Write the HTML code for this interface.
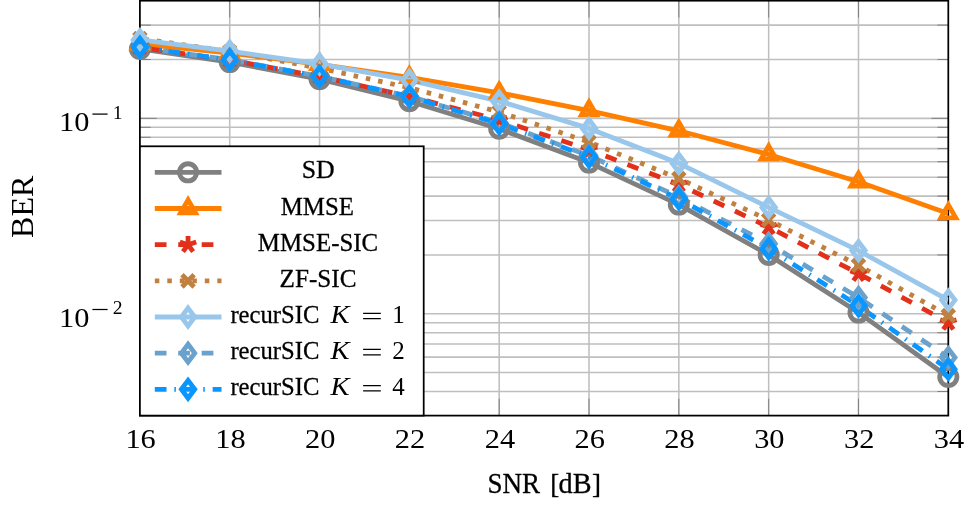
<!DOCTYPE html>
<html>
<head>
<meta charset="utf-8">
<title>BER vs SNR</title>
<style>
html,body{margin:0;padding:0;background:#fff;}
body{width:977px;height:510px;overflow:hidden;font-family:"Liberation Serif",serif;}
svg{display:block;will-change:transform;}
</style>
</head>
<body>
<svg width="977" height="510" viewBox="0 0 977 510">
<rect x="0" y="0" width="977" height="510" fill="#ffffff"/>
<path d="M229.72 0.7V415.6M319.54 0.7V415.6M409.37 0.7V415.6M499.19 0.7V415.6M589.01 0.7V415.6M678.83 0.7V415.6M768.66 0.7V415.6M858.48 0.7V415.6M139.9 391.51H948.3M139.9 372.57H948.3M139.9 357.1H948.3M139.9 344.02H948.3M139.9 332.69H948.3M139.9 322.69H948.3M139.9 313.75H948.3M139.9 254.93H948.3M139.9 220.52H948.3M139.9 196.11H948.3M139.9 177.17H948.3M139.9 161.7H948.3M139.9 148.62H948.3M139.9 137.29H948.3M139.9 127.29H948.3M139.9 118.35H948.3M139.9 59.53H948.3M139.9 25.12H948.3" stroke="#bfbfbf" stroke-width="1.55" fill="none"/>
<path d="M229.72 415.6V398.8M229.72 0.7V17.5M319.54 415.6V398.8M319.54 0.7V17.5M409.37 415.6V398.8M409.37 0.7V17.5M499.19 415.6V398.8M499.19 0.7V17.5M589.01 415.6V398.8M589.01 0.7V17.5M678.83 415.6V398.8M678.83 0.7V17.5M768.66 415.6V398.8M768.66 0.7V17.5M858.48 415.6V398.8M858.48 0.7V17.5M139.9 391.51H150.7M948.3 391.51H937.5M139.9 372.57H150.7M948.3 372.57H937.5M139.9 357.1H150.7M948.3 357.1H937.5M139.9 344.02H150.7M948.3 344.02H937.5M139.9 332.69H150.7M948.3 332.69H937.5M139.9 322.69H150.7M948.3 322.69H937.5M139.9 313.75H156.7M948.3 313.75H931.5M139.9 254.93H150.7M948.3 254.93H937.5M139.9 220.52H150.7M948.3 220.52H937.5M139.9 196.11H150.7M948.3 196.11H937.5M139.9 177.17H150.7M948.3 177.17H937.5M139.9 161.7H150.7M948.3 161.7H937.5M139.9 148.62H150.7M948.3 148.62H937.5M139.9 137.29H150.7M948.3 137.29H937.5M139.9 127.29H150.7M948.3 127.29H937.5M139.9 118.35H156.7M948.3 118.35H931.5M139.9 59.53H150.7M948.3 59.53H937.5M139.9 25.12H150.7M948.3 25.12H937.5" stroke="#787878" stroke-width="0.9" fill="none"/>
<rect x="139.9" y="0.7" width="808.4" height="414.9" fill="none" stroke="#000" stroke-width="1.75"/>
<clipPath id="c"><rect x="139.9" y="0.7" width="808.4" height="414.9"/></clipPath>
<g clip-path="url(#c)">
<path d="M139.9 49L229.72 62.1L319.54 79.2L409.37 101.2L499.19 128.8L589.01 162.6L678.83 204.6L768.66 254.9L858.48 312.6L948.3 377" stroke="#808080" stroke-width="4.8" fill="none" stroke-linejoin="round"/>
<path d="M139.9 43.8L229.72 53.1L319.54 64.3L409.37 77.3L499.19 92.8L589.01 110.6L678.83 130.8L768.66 154.5L858.48 181.8L948.3 213.5" stroke="#ff8000" stroke-width="4.8" fill="none" stroke-linejoin="round"/>
<path d="M139.9 47.5L229.72 60L319.54 76.5L409.37 96.3L499.19 120L589.01 149.6L678.83 184.5L768.66 227L858.48 273.6L948.3 322.5" stroke="#e2301a" stroke-width="4.8" fill="none" stroke-linejoin="round" stroke-dasharray="11.72 11.72" stroke-dashoffset="13"/>
<path d="M139.9 38.5L229.72 51.5L319.54 68.2L409.37 87.7L499.19 112L589.01 142L678.83 178.5L768.66 220L858.48 265.3L948.3 315.6" stroke="#bf8040" stroke-width="4.8" fill="none" stroke-linejoin="round" stroke-dasharray="4.55 7.95" stroke-dashoffset="8"/>
<path d="M139.9 39.9L229.72 51.1L319.54 64L409.37 80.1L499.19 101.1L589.01 128.4L678.83 163.3L768.66 207.4L858.48 250.6L948.3 300.1" stroke="#99c7ec" stroke-width="4.8" fill="none" stroke-linejoin="round"/>
<path d="M139.9 47.3L229.72 59.8L319.54 76.3L409.37 96.3L499.19 122.7L589.01 155.6L678.83 197L768.66 243.7L858.48 297.6L948.3 357.6" stroke="#6aa2cc" stroke-width="4.8" fill="none" stroke-linejoin="round" stroke-dasharray="11.72 11.72" stroke-dashoffset="0"/>
<path d="M139.9 47.3L229.72 59.9L319.54 76.5L409.37 96.6L499.19 123.7L589.01 157L678.83 198.9L768.66 248.7L858.48 305.8L948.3 369.2" stroke="#0a96ff" stroke-width="4.8" fill="none" stroke-linejoin="round" stroke-dasharray="11.72 7.82 1.56 7.82" stroke-dashoffset="0"/>
</g>
<circle cx="139.9" cy="49" r="8.6" stroke="#808080" stroke-width="4.8" fill="none"/>
<circle cx="229.72" cy="62.1" r="8.6" stroke="#808080" stroke-width="4.8" fill="none"/>
<circle cx="319.54" cy="79.2" r="8.6" stroke="#808080" stroke-width="4.8" fill="none"/>
<circle cx="409.37" cy="101.2" r="8.6" stroke="#808080" stroke-width="4.8" fill="none"/>
<circle cx="499.19" cy="128.8" r="8.6" stroke="#808080" stroke-width="4.8" fill="none"/>
<circle cx="589.01" cy="162.6" r="8.6" stroke="#808080" stroke-width="4.8" fill="none"/>
<circle cx="678.83" cy="204.6" r="8.6" stroke="#808080" stroke-width="4.8" fill="none"/>
<circle cx="768.66" cy="254.9" r="8.6" stroke="#808080" stroke-width="4.8" fill="none"/>
<circle cx="858.48" cy="312.6" r="8.6" stroke="#808080" stroke-width="4.8" fill="none"/>
<circle cx="948.3" cy="377" r="8.6" stroke="#808080" stroke-width="4.8" fill="none"/>
<polygon points="139.9,35.2 132.45,48.1 147.35,48.1" stroke="#ff8000" stroke-width="4.8" fill="none" stroke-linejoin="miter"/>
<polygon points="229.72,44.5 222.27,57.4 237.17,57.4" stroke="#ff8000" stroke-width="4.8" fill="none" stroke-linejoin="miter"/>
<polygon points="319.54,55.7 312.1,68.6 326.99,68.6" stroke="#ff8000" stroke-width="4.8" fill="none" stroke-linejoin="miter"/>
<polygon points="409.37,68.7 401.92,81.6 416.81,81.6" stroke="#ff8000" stroke-width="4.8" fill="none" stroke-linejoin="miter"/>
<polygon points="499.19,84.2 491.74,97.1 506.64,97.1" stroke="#ff8000" stroke-width="4.8" fill="none" stroke-linejoin="miter"/>
<polygon points="589.01,102 581.56,114.9 596.46,114.9" stroke="#ff8000" stroke-width="4.8" fill="none" stroke-linejoin="miter"/>
<polygon points="678.83,122.2 671.39,135.1 686.28,135.1" stroke="#ff8000" stroke-width="4.8" fill="none" stroke-linejoin="miter"/>
<polygon points="768.66,145.9 761.21,158.8 776.1,158.8" stroke="#ff8000" stroke-width="4.8" fill="none" stroke-linejoin="miter"/>
<polygon points="858.48,173.2 851.03,186.1 865.93,186.1" stroke="#ff8000" stroke-width="4.8" fill="none" stroke-linejoin="miter"/>
<polygon points="948.3,204.9 940.85,217.8 955.75,217.8" stroke="#ff8000" stroke-width="4.8" fill="none" stroke-linejoin="miter"/>
<path d="M139.9 47.5L139.9 38.9M139.9 47.5L131.72 44.84M139.9 47.5L134.85 54.46M139.9 47.5L144.95 54.46M139.9 47.5L148.08 44.84" stroke="#e2301a" stroke-width="4.8" fill="none"/>
<path d="M229.72 60L229.72 51.4M229.72 60L221.54 57.34M229.72 60L224.67 66.96M229.72 60L234.78 66.96M229.72 60L237.9 57.34" stroke="#e2301a" stroke-width="4.8" fill="none"/>
<path d="M319.54 76.5L319.54 67.9M319.54 76.5L311.37 73.84M319.54 76.5L314.49 83.46M319.54 76.5L324.6 83.46M319.54 76.5L327.72 73.84" stroke="#e2301a" stroke-width="4.8" fill="none"/>
<path d="M409.37 96.3L409.37 87.7M409.37 96.3L401.19 93.64M409.37 96.3L404.31 103.26M409.37 96.3L414.42 103.26M409.37 96.3L417.55 93.64" stroke="#e2301a" stroke-width="4.8" fill="none"/>
<path d="M499.19 120L499.19 111.4M499.19 120L491.01 117.34M499.19 120L494.13 126.96M499.19 120L504.24 126.96M499.19 120L507.37 117.34" stroke="#e2301a" stroke-width="4.8" fill="none"/>
<path d="M589.01 149.6L589.01 141M589.01 149.6L580.83 146.94M589.01 149.6L583.96 156.56M589.01 149.6L594.07 156.56M589.01 149.6L597.19 146.94" stroke="#e2301a" stroke-width="4.8" fill="none"/>
<path d="M678.83 184.5L678.83 175.9M678.83 184.5L670.65 181.84M678.83 184.5L673.78 191.46M678.83 184.5L683.89 191.46M678.83 184.5L687.01 181.84" stroke="#e2301a" stroke-width="4.8" fill="none"/>
<path d="M768.66 227L768.66 218.4M768.66 227L760.48 224.34M768.66 227L763.6 233.96M768.66 227L773.71 233.96M768.66 227L776.83 224.34" stroke="#e2301a" stroke-width="4.8" fill="none"/>
<path d="M858.48 273.6L858.48 265M858.48 273.6L850.3 270.94M858.48 273.6L853.42 280.56M858.48 273.6L863.53 280.56M858.48 273.6L866.66 270.94" stroke="#e2301a" stroke-width="4.8" fill="none"/>
<path d="M948.3 322.5L948.3 313.9M948.3 322.5L940.12 319.84M948.3 322.5L943.25 329.46M948.3 322.5L953.35 329.46M948.3 322.5L956.48 319.84" stroke="#e2301a" stroke-width="4.8" fill="none"/>
<path d="M133.82 32.42L145.98 44.58M133.82 44.58L145.98 32.42" stroke="#bf8040" stroke-width="4.8" fill="none"/>
<path d="M223.64 45.42L235.8 57.58M223.64 57.58L235.8 45.42" stroke="#bf8040" stroke-width="4.8" fill="none"/>
<path d="M313.46 62.12L325.63 74.28M313.46 74.28L325.63 62.12" stroke="#bf8040" stroke-width="4.8" fill="none"/>
<path d="M403.29 81.62L415.45 93.78M403.29 93.78L415.45 81.62" stroke="#bf8040" stroke-width="4.8" fill="none"/>
<path d="M493.11 105.92L505.27 118.08M493.11 118.08L505.27 105.92" stroke="#bf8040" stroke-width="4.8" fill="none"/>
<path d="M582.93 135.92L595.09 148.08M582.93 148.08L595.09 135.92" stroke="#bf8040" stroke-width="4.8" fill="none"/>
<path d="M672.75 172.42L684.91 184.58M672.75 184.58L684.91 172.42" stroke="#bf8040" stroke-width="4.8" fill="none"/>
<path d="M762.57 213.92L774.74 226.08M762.57 226.08L774.74 213.92" stroke="#bf8040" stroke-width="4.8" fill="none"/>
<path d="M852.4 259.22L864.56 271.38M852.4 271.38L864.56 259.22" stroke="#bf8040" stroke-width="4.8" fill="none"/>
<path d="M942.22 309.52L954.38 321.68M942.22 321.68L954.38 309.52" stroke="#bf8040" stroke-width="4.8" fill="none"/>
<polygon points="139.9,31 146.58,39.9 139.9,48.8 133.22,39.9" stroke="#99c7ec" stroke-width="4.8" fill="none" stroke-linejoin="miter"/>
<polygon points="229.72,42.2 236.4,51.1 229.72,60 223.05,51.1" stroke="#99c7ec" stroke-width="4.8" fill="none" stroke-linejoin="miter"/>
<polygon points="319.54,55.1 326.22,64 319.54,72.9 312.87,64" stroke="#99c7ec" stroke-width="4.8" fill="none" stroke-linejoin="miter"/>
<polygon points="409.37,71.2 416.04,80.1 409.37,89 402.69,80.1" stroke="#99c7ec" stroke-width="4.8" fill="none" stroke-linejoin="miter"/>
<polygon points="499.19,92.2 505.86,101.1 499.19,110 492.51,101.1" stroke="#99c7ec" stroke-width="4.8" fill="none" stroke-linejoin="miter"/>
<polygon points="589.01,119.5 595.69,128.4 589.01,137.3 582.34,128.4" stroke="#99c7ec" stroke-width="4.8" fill="none" stroke-linejoin="miter"/>
<polygon points="678.83,154.4 685.51,163.3 678.83,172.2 672.16,163.3" stroke="#99c7ec" stroke-width="4.8" fill="none" stroke-linejoin="miter"/>
<polygon points="768.66,198.5 775.33,207.4 768.66,216.3 761.98,207.4" stroke="#99c7ec" stroke-width="4.8" fill="none" stroke-linejoin="miter"/>
<polygon points="858.48,241.7 865.15,250.6 858.48,259.5 851.8,250.6" stroke="#99c7ec" stroke-width="4.8" fill="none" stroke-linejoin="miter"/>
<polygon points="948.3,291.2 954.97,300.1 948.3,309 941.62,300.1" stroke="#99c7ec" stroke-width="4.8" fill="none" stroke-linejoin="miter"/>
<polygon points="139.9,38.4 146.58,47.3 139.9,56.2 133.22,47.3" stroke="#6aa2cc" stroke-width="4.8" fill="none" stroke-linejoin="miter"/>
<polygon points="229.72,50.9 236.4,59.8 229.72,68.7 223.05,59.8" stroke="#6aa2cc" stroke-width="4.8" fill="none" stroke-linejoin="miter"/>
<polygon points="319.54,67.4 326.22,76.3 319.54,85.2 312.87,76.3" stroke="#6aa2cc" stroke-width="4.8" fill="none" stroke-linejoin="miter"/>
<polygon points="409.37,87.4 416.04,96.3 409.37,105.2 402.69,96.3" stroke="#6aa2cc" stroke-width="4.8" fill="none" stroke-linejoin="miter"/>
<polygon points="499.19,113.8 505.86,122.7 499.19,131.6 492.51,122.7" stroke="#6aa2cc" stroke-width="4.8" fill="none" stroke-linejoin="miter"/>
<polygon points="589.01,146.7 595.69,155.6 589.01,164.5 582.34,155.6" stroke="#6aa2cc" stroke-width="4.8" fill="none" stroke-linejoin="miter"/>
<polygon points="678.83,188.1 685.51,197 678.83,205.9 672.16,197" stroke="#6aa2cc" stroke-width="4.8" fill="none" stroke-linejoin="miter"/>
<polygon points="768.66,234.8 775.33,243.7 768.66,252.6 761.98,243.7" stroke="#6aa2cc" stroke-width="4.8" fill="none" stroke-linejoin="miter"/>
<polygon points="858.48,288.7 865.15,297.6 858.48,306.5 851.8,297.6" stroke="#6aa2cc" stroke-width="4.8" fill="none" stroke-linejoin="miter"/>
<polygon points="948.3,348.7 954.97,357.6 948.3,366.5 941.62,357.6" stroke="#6aa2cc" stroke-width="4.8" fill="none" stroke-linejoin="miter"/>
<polygon points="139.9,38.4 146.58,47.3 139.9,56.2 133.22,47.3" stroke="#0a96ff" stroke-width="4.8" fill="none" stroke-linejoin="miter"/>
<polygon points="229.72,51 236.4,59.9 229.72,68.8 223.05,59.9" stroke="#0a96ff" stroke-width="4.8" fill="none" stroke-linejoin="miter"/>
<polygon points="319.54,67.6 326.22,76.5 319.54,85.4 312.87,76.5" stroke="#0a96ff" stroke-width="4.8" fill="none" stroke-linejoin="miter"/>
<polygon points="409.37,87.7 416.04,96.6 409.37,105.5 402.69,96.6" stroke="#0a96ff" stroke-width="4.8" fill="none" stroke-linejoin="miter"/>
<polygon points="499.19,114.8 505.86,123.7 499.19,132.6 492.51,123.7" stroke="#0a96ff" stroke-width="4.8" fill="none" stroke-linejoin="miter"/>
<polygon points="589.01,148.1 595.69,157 589.01,165.9 582.34,157" stroke="#0a96ff" stroke-width="4.8" fill="none" stroke-linejoin="miter"/>
<polygon points="678.83,190 685.51,198.9 678.83,207.8 672.16,198.9" stroke="#0a96ff" stroke-width="4.8" fill="none" stroke-linejoin="miter"/>
<polygon points="768.66,239.8 775.33,248.7 768.66,257.6 761.98,248.7" stroke="#0a96ff" stroke-width="4.8" fill="none" stroke-linejoin="miter"/>
<polygon points="858.48,296.9 865.15,305.8 858.48,314.7 851.8,305.8" stroke="#0a96ff" stroke-width="4.8" fill="none" stroke-linejoin="miter"/>
<polygon points="948.3,360.3 954.97,369.2 948.3,378.1 941.62,369.2" stroke="#0a96ff" stroke-width="4.8" fill="none" stroke-linejoin="miter"/>
<rect x="139.9" y="146.3" width="283.8" height="269.3" fill="#fff" stroke="#000" stroke-width="1.75"/>
<path d="M154.8 172.35L188.05 172.35L221.5 172.35" stroke="#808080" stroke-width="4.8" fill="none" stroke-linejoin="round"/>
<circle cx="188.05" cy="172.35" r="8.6" stroke="#808080" stroke-width="4.8" fill="none"/>
<path d="M154.8 208.5L188.05 208.5L221.5 208.5" stroke="#ff8000" stroke-width="4.8" fill="none" stroke-linejoin="round"/>
<polygon points="188.05,199.9 180.6,212.8 195.5,212.8" stroke="#ff8000" stroke-width="4.8" fill="none" stroke-linejoin="miter"/>
<path d="M154.8 244.7L188.05 244.7L221.5 244.7" stroke="#e2301a" stroke-width="4.8" fill="none" stroke-linejoin="round" stroke-dasharray="11.72 11.72" stroke-dashoffset="0"/>
<path d="M188.05 244.7L188.05 236.1M188.05 244.7L179.87 242.04M188.05 244.7L183 251.66M188.05 244.7L193.1 251.66M188.05 244.7L196.23 242.04" stroke="#e2301a" stroke-width="4.8" fill="none"/>
<path d="M154.8 280.85L188.05 280.85L221.5 280.85" stroke="#bf8040" stroke-width="4.8" fill="none" stroke-linejoin="round" stroke-dasharray="4.55 7.95" stroke-dashoffset="0"/>
<path d="M181.97 274.77L194.13 286.93M181.97 286.93L194.13 274.77" stroke="#bf8040" stroke-width="4.8" fill="none"/>
<path d="M154.8 317L188.05 317L221.5 317" stroke="#99c7ec" stroke-width="4.8" fill="none" stroke-linejoin="round"/>
<polygon points="188.05,308.1 194.73,317 188.05,325.9 181.38,317" stroke="#99c7ec" stroke-width="4.8" fill="none" stroke-linejoin="miter"/>
<path d="M154.8 353.15L188.05 353.15L221.5 353.15" stroke="#6aa2cc" stroke-width="4.8" fill="none" stroke-linejoin="round" stroke-dasharray="11.72 11.72" stroke-dashoffset="0"/>
<polygon points="188.05,344.25 194.73,353.15 188.05,362.05 181.38,353.15" stroke="#6aa2cc" stroke-width="4.8" fill="none" stroke-linejoin="miter"/>
<path d="M154.8 389.3L188.05 389.3L221.5 389.3" stroke="#0a96ff" stroke-width="4.8" fill="none" stroke-linejoin="round" stroke-dasharray="11.72 7.82 1.56 7.82" stroke-dashoffset="0"/>
<polygon points="188.05,380.4 194.73,389.3 188.05,398.2 181.38,389.3" stroke="#0a96ff" stroke-width="4.8" fill="none" stroke-linejoin="miter"/>
<text x="318.2" y="178.3" font-size="26" text-anchor="middle" font-family="'Liberation Serif', serif" textLength="33" lengthAdjust="spacingAndGlyphs" stroke="#000" stroke-width="0.3" stroke-linejoin="round">SD</text>
<text x="317.3" y="214.6" font-size="26" text-anchor="middle" font-family="'Liberation Serif', serif" textLength="73.2" lengthAdjust="spacingAndGlyphs" stroke="#000" stroke-width="0.3" stroke-linejoin="round">MMSE</text>
<text x="318" y="250.8" font-size="26" text-anchor="middle" font-family="'Liberation Serif', serif" textLength="120.3" lengthAdjust="spacingAndGlyphs" stroke="#000" stroke-width="0.3" stroke-linejoin="round">MMSE-SIC</text>
<text x="318" y="286.8" font-size="26" text-anchor="middle" font-family="'Liberation Serif', serif" textLength="77" lengthAdjust="spacingAndGlyphs" stroke="#000" stroke-width="0.3" stroke-linejoin="round">ZF-SIC</text>
<text x="230.4" y="322.6" font-size="26" text-anchor="start" font-family="'Liberation Serif', serif" textLength="89" lengthAdjust="spacingAndGlyphs" stroke="#000" stroke-width="0.3" stroke-linejoin="round">recurSIC</text>
<text x="330.6" y="322.6" font-size="26" text-anchor="start" font-family="'Liberation Serif', serif" textLength="19" lengthAdjust="spacingAndGlyphs" font-style="italic">K</text>
<path d="M363.1 313.3H380.8M363.1 318.7H380.8" stroke="#000" stroke-width="1.25" fill="none"/>
<text x="398.6" y="322.6" font-size="25" text-anchor="middle" font-family="'Liberation Serif', serif">1</text>
<text x="230.4" y="358.7" font-size="26" text-anchor="start" font-family="'Liberation Serif', serif" textLength="89" lengthAdjust="spacingAndGlyphs" stroke="#000" stroke-width="0.3" stroke-linejoin="round">recurSIC</text>
<text x="330.6" y="358.7" font-size="26" text-anchor="start" font-family="'Liberation Serif', serif" textLength="19" lengthAdjust="spacingAndGlyphs" font-style="italic">K</text>
<path d="M363.1 349.4H380.8M363.1 354.8H380.8" stroke="#000" stroke-width="1.25" fill="none"/>
<text x="398.6" y="358.7" font-size="25" text-anchor="middle" font-family="'Liberation Serif', serif">2</text>
<text x="230.4" y="394.8" font-size="26" text-anchor="start" font-family="'Liberation Serif', serif" textLength="89" lengthAdjust="spacingAndGlyphs" stroke="#000" stroke-width="0.3" stroke-linejoin="round">recurSIC</text>
<text x="330.6" y="394.8" font-size="26" text-anchor="start" font-family="'Liberation Serif', serif" textLength="19" lengthAdjust="spacingAndGlyphs" font-style="italic">K</text>
<path d="M363.1 385.5H380.8M363.1 390.9H380.8" stroke="#000" stroke-width="1.25" fill="none"/>
<text x="398.6" y="394.8" font-size="25" text-anchor="middle" font-family="'Liberation Serif', serif">4</text>
<text x="140.6" y="448" font-size="28.2" text-anchor="middle" font-family="'Liberation Serif', serif" textLength="30.4" lengthAdjust="spacingAndGlyphs">16</text>
<text x="230.42" y="448" font-size="28.2" text-anchor="middle" font-family="'Liberation Serif', serif" textLength="30.4" lengthAdjust="spacingAndGlyphs">18</text>
<text x="320.24" y="448" font-size="28.2" text-anchor="middle" font-family="'Liberation Serif', serif" textLength="30.4" lengthAdjust="spacingAndGlyphs">20</text>
<text x="410.07" y="448" font-size="28.2" text-anchor="middle" font-family="'Liberation Serif', serif" textLength="30.4" lengthAdjust="spacingAndGlyphs">22</text>
<text x="499.89" y="448" font-size="28.2" text-anchor="middle" font-family="'Liberation Serif', serif" textLength="30.4" lengthAdjust="spacingAndGlyphs">24</text>
<text x="589.71" y="448" font-size="28.2" text-anchor="middle" font-family="'Liberation Serif', serif" textLength="30.4" lengthAdjust="spacingAndGlyphs">26</text>
<text x="679.53" y="448" font-size="28.2" text-anchor="middle" font-family="'Liberation Serif', serif" textLength="30.4" lengthAdjust="spacingAndGlyphs">28</text>
<text x="769.36" y="448" font-size="28.2" text-anchor="middle" font-family="'Liberation Serif', serif" textLength="30.4" lengthAdjust="spacingAndGlyphs">30</text>
<text x="859.18" y="448" font-size="28.2" text-anchor="middle" font-family="'Liberation Serif', serif" textLength="30.4" lengthAdjust="spacingAndGlyphs">32</text>
<text x="949" y="448" font-size="28.2" text-anchor="middle" font-family="'Liberation Serif', serif" textLength="30.4" lengthAdjust="spacingAndGlyphs">34</text>
<text x="59" y="131.2" font-size="28.2" text-anchor="start" font-family="'Liberation Serif', serif" textLength="30.4" lengthAdjust="spacingAndGlyphs">10</text>
<path d="M92.4 114.1H107.6" stroke="#000" stroke-width="1.25" fill="none"/>
<text x="117.6" y="119" font-size="19.6" text-anchor="middle" font-family="'Liberation Serif', serif">1</text>
<text x="59" y="326.6" font-size="28.2" text-anchor="start" font-family="'Liberation Serif', serif" textLength="30.4" lengthAdjust="spacingAndGlyphs">10</text>
<path d="M92.4 309.5H107.6" stroke="#000" stroke-width="1.25" fill="none"/>
<text x="117.6" y="314.4" font-size="19.6" text-anchor="middle" font-family="'Liberation Serif', serif">2</text>
<text x="487.5" y="493.2" font-size="29" text-anchor="start" font-family="'Liberation Serif', serif" textLength="52.6" lengthAdjust="spacingAndGlyphs" stroke="#000" stroke-width="0.3" stroke-linejoin="round">SNR</text>
<text x="550.2" y="492.6" font-size="27" text-anchor="start" font-family="'Liberation Serif', serif" stroke="#000" stroke-width="0.3" stroke-linejoin="round">[</text>
<text x="558.6" y="493.2" font-size="29" text-anchor="start" font-family="'Liberation Serif', serif" textLength="33" lengthAdjust="spacingAndGlyphs" stroke="#000" stroke-width="0.3" stroke-linejoin="round">dB</text>
<text x="592.1" y="492.6" font-size="27" text-anchor="start" font-family="'Liberation Serif', serif" stroke="#000" stroke-width="0.3" stroke-linejoin="round">]</text>
<text transform="translate(33.2 206.8) rotate(-90)" font-size="32" text-anchor="middle" font-family="'Liberation Serif', serif">BER</text>
</svg>
</body>
</html>
